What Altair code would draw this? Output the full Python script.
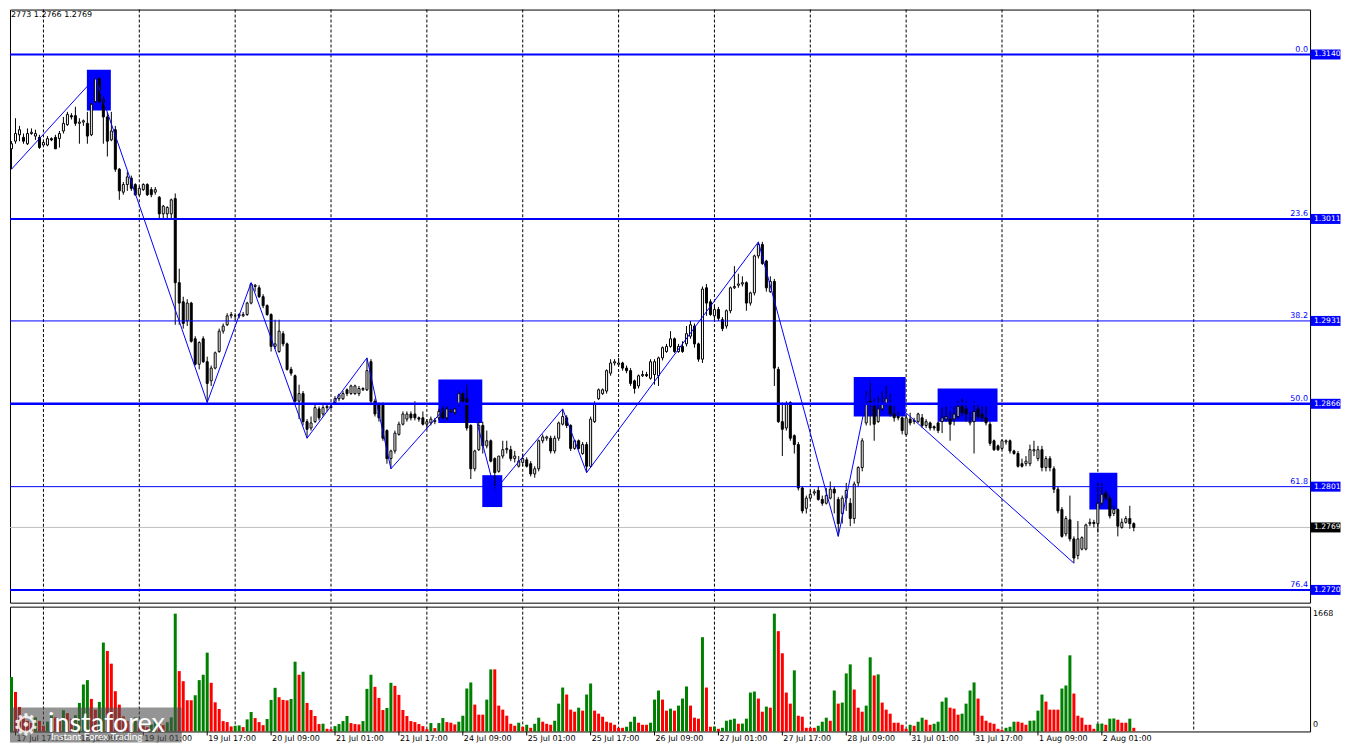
import altair as alt
import pandas as pd

# ---------------- data (prices in units of 0.0001) ----------------
OPEN_PIPS = [
13074,13082,13066,13072,13077,13075,13070,13078,13076,13075,
13069,13069,13074,13075,13074,13080,13085,13092,13092,13086,
13087,13086,13077,13103,13121,13105,13091,13073,13081,13050,
13032,13038,13043,13038,13030,13034,13038,13034,13032,13028,
13015,13015,13015,13027,12961,12946,12931,12945,12917,12897,
12917,12899,12884,12894,12907,12923,12928,12935,12935,12935,
12935,12936,12945,12958,12957,12950,12943,12936,12911,12907,
12921,12913,12893,12888,12868,12874,12852,12847,12852,12862,
12858,12863,12863,12867,12870,12870,12877,12874,12874,12874,
12877,12877,12899,12868,12866,12866,12845,12823,12829,12842,
12850,12854,12858,12858,12855,12855,12850,12851,12852,12855,
12862,12855,12860,12859,12866,12874,12870,12849,12815,12830,
12849,12833,12837,12823,12813,12825,12830,12830,12823,12817,
12820,12822,12819,12811,12815,12837,12839,12839,12829,12839,
12850,12855,12849,12831,12837,12827,12834,12817,12852,12870,
12874,12876,12890,12898,12897,12898,12894,12892,12884,12880,
12888,12889,12886,12889,12888,12902,12907,12911,12917,12907,
12911,12913,12919,12927,12913,12901,12957,12946,12935,12940,
12932,12927,12939,12957,12959,12960,12961,12945,12953,12982,
12991,12978,12954,12962,12893,12852,12847,12867,12841,12834,
12800,12784,12792,12796,12798,12791,12788,12792,12799,12791,
12780,12792,12788,12776,12804,12816,12851,12868,12864,12852,
12862,12866,12864,12858,12856,12855,12842,12854,12852,12852,
12855,12849,12851,12848,12851,12852,12854,12854,12854,12856,
12864,12862,12851,12852,12862,12858,12855,12850,12837,12833,
12831,12836,12837,12829,12827,12819,12819,12819,12829,12823,
12830,12816,12823,12815,12799,12783,12764,12775,12760,12747,
12752,12752,12772,12773,12772,12788,12796,12792,12780,12783,
12769,12773,12776,12772]

HIGH_PIPS = [
13087,13084,13072,13090,13084,13078,13082,13082,13081,13077,
13072,13076,13075,13077,13080,13091,13095,13094,13099,13090,
13089,13095,13102,13122,13122,13107,13095,13095,13084,13051,
13040,13048,13045,13039,13037,13039,13039,13036,13036,13029,
13022,13021,13027,13031,12972,12950,12948,12946,12919,12915,
12919,12903,12896,12907,12925,12929,12937,12938,12937,12937,
12938,12946,12961,12960,12959,12952,12944,12937,12932,12932,
12923,12914,12895,12889,12881,12876,12854,12856,12866,12864,
12865,12865,12866,12872,12874,12876,12878,12881,12881,12880,
12879,12902,12901,12870,12867,12867,12846,12830,12845,12852,
12860,12860,12860,12868,12856,12860,12854,12856,12855,12862,
12864,12864,12862,12863,12876,12875,12882,12850,12830,12852,
12852,12845,12838,12824,12820,12837,12837,12833,12829,12825,
12827,12824,12821,12817,12838,12842,12841,12841,12841,12852,
12862,12857,12850,12838,12838,12836,12836,12856,12868,12878,
12878,12893,12901,12901,12902,12899,12896,12894,12885,12889,
12892,12891,12901,12901,12903,12911,12913,12923,12918,12913,
12915,12927,12931,12929,12914,12958,12960,12948,12943,12942,
12934,12940,12958,12974,12968,12966,12962,12954,12983,12993,
12993,12979,12966,12964,12895,12867,12868,12868,12842,12836,
12801,12794,12798,12799,12801,12794,12800,12805,12801,12793,
12794,12804,12792,12805,12817,12839,12876,12884,12870,12872,
12876,12880,12874,12864,12860,12856,12857,12859,12855,12859,
12858,12854,12852,12849,12852,12863,12864,12860,12864,12868,
12870,12868,12860,12868,12866,12864,12864,12852,12838,12834,
12838,12838,12838,12830,12829,12823,12825,12834,12837,12833,
12833,12825,12825,12817,12801,12785,12778,12794,12762,12774,
12762,12772,12776,12775,12804,12804,12798,12794,12786,12784,
12776,12778,12786,12773]

LOW_PIPS = [
13064,13062,13050,13070,13072,13070,13069,13077,13073,13066,
13069,13068,13072,13066,13067,13078,13084,13089,13084,13070,
13084,13070,13076,13102,13102,13070,13060,13072,13048,13026,
13030,13033,13033,13029,13029,13033,13029,13028,13030,13011,
13011,13011,13011,12928,12928,12925,12927,12914,12896,12893,
12898,12867,12880,12893,12906,12921,12927,12933,12932,12933,
12934,12935,12944,12954,12949,12941,12935,12907,12909,12906,
12911,12892,12888,12867,12854,12849,12839,12845,12851,12853,
12856,12860,12862,12865,12868,12869,12872,12873,12873,12872,
12876,12876,12865,12856,12852,12837,12819,12815,12827,12841,
12849,12852,12853,12853,12852,12849,12846,12849,12850,12853,
12854,12853,12859,12857,12864,12867,12845,12807,12813,12829,
12827,12831,12820,12798,12812,12823,12827,12821,12820,12816,
12817,12816,12809,12808,12813,12835,12837,12827,12827,12837,
12849,12847,12829,12830,12830,12826,12812,12816,12851,12869,
12873,12874,12888,12896,12895,12892,12890,12880,12874,12878,
12887,12887,12885,12881,12880,12900,12906,12910,12906,12906,
12906,12911,12917,12910,12899,12898,12935,12935,12932,12931,
12923,12925,12937,12956,12957,12958,12939,12943,12951,12980,
12975,12954,12953,12880,12851,12825,12845,12837,12827,12798,
12780,12780,12791,12794,12790,12786,12787,12791,12780,12762,
12772,12782,12770,12772,12801,12813,12849,12849,12837,12851,
12860,12864,12856,12852,12853,12842,12841,12849,12850,12851,
12847,12847,12845,12845,12843,12843,12852,12837,12849,12854,
12856,12852,12849,12827,12854,12852,12849,12833,12829,12829,
12830,12834,12827,12826,12816,12816,12817,12817,12825,12821,
12813,12813,12813,12796,12780,12761,12762,12758,12741,12744,
12751,12751,12770,12769,12765,12786,12790,12776,12778,12762,
12768,12772,12768,12766]

CLOSE_PIPS = [
13082,13066,13070,13078,13081,13072,13078,13079,13078,13067,
13071,13074,13073,13066,13078,13086,13093,13091,13086,13087,
13088,13076,13101,13121,13103,13091,13072,13080,13050,13033,
13038,13044,13035,13030,13035,13038,13030,13030,13034,13015,
13021,13020,13026,12961,12945,12929,12945,12915,12897,12914,
12899,12882,12894,12906,12923,12927,12935,12936,12935,12936,
12936,12945,12960,12959,12950,12943,12936,12911,12913,12923,
12913,12893,12890,12868,12874,12852,12846,12851,12863,12855,
12863,12864,12864,12870,12873,12874,12874,12880,12880,12878,
12878,12892,12868,12858,12855,12839,12823,12829,12843,12850,
12858,12858,12855,12855,12854,12850,12852,12854,12853,12860,
12855,12862,12861,12862,12874,12868,12847,12815,12829,12849,
12833,12837,12821,12812,12825,12830,12831,12823,12825,12821,
12823,12817,12811,12815,12837,12840,12840,12829,12839,12851,
12856,12849,12831,12837,12831,12834,12817,12854,12866,12877,
12877,12892,12898,12899,12898,12894,12892,12882,12878,12888,
12889,12888,12899,12899,12902,12910,12911,12917,12907,12911,
12907,12921,12928,12913,12901,12956,12945,12936,12940,12933,
12925,12939,12957,12958,12960,12961,12945,12953,12982,12991,
12976,12957,12962,12894,12852,12846,12866,12839,12834,12800,
12782,12792,12795,12797,12791,12788,12794,12799,12796,12772,
12792,12798,12776,12803,12816,12837,12867,12867,12850,12862,
12866,12870,12858,12855,12855,12845,12855,12851,12853,12858,
12849,12852,12847,12847,12845,12855,12856,12850,12858,12864,
12859,12858,12852,12860,12856,12855,12851,12835,12830,12830,
12837,12837,12829,12827,12817,12817,12821,12830,12830,12830,
12816,12823,12816,12799,12782,12762,12776,12760,12745,12760,
12761,12771,12773,12772,12788,12795,12792,12778,12783,12770,
12773,12776,12772,12769]

VOLUMES = [
394,760,770,560,347,214,150,120,200,150,
80,140,250,200,150,300,260,180,230,404,
665,727,461,309,418,1259,1140,960,570,380,
214,150,100,200,130,80,60,100,150,120,
90,130,200,1668,855,712,442,442,513,727,
803,1116,689,413,318,147,133,71,81,86,
62,171,276,190,133,90,176,447,618,485,
447,440,460,988,803,846,404,304,219,105,
110,38,33,76,105,147,219,119,105,100,
147,603,803,632,475,304,333,689,646,518,
304,219,147,133,105,76,33,119,48,119,
190,133,124,100,138,223,608,694,380,238,
238,451,879,879,366,309,223,109,81,124,
67,95,52,109,195,138,109,95,152,394,
622,523,309,280,337,295,523,679,295,252,
209,138,124,95,52,52,67,138,209,124,
95,95,124,451,580,451,295,323,295,366,
466,637,366,195,181,1335,622,67,70,38,
52,152,166,181,109,112,181,551,565,466,
280,352,337,1668,1420,1107,551,394,865,223,
209,52,52,52,81,138,195,152,580,394,
409,822,950,594,337,280,366,1050,793,808,
409,309,252,124,124,95,38,95,81,138,
195,166,95,109,138,423,480,337,323,238,
252,394,580,694,466,223,152,124,109,38,
24,52,67,138,138,124,95,152,155,295,
523,423,309,309,309,608,651,1078,537,223,
195,95,95,38,109,112,95,181,184,166,
124,124,181,52]

# bar index of each midnight (vertical dotted separators)
DAY_START_BARS = [10, 34, 58, 82, 106, 130, 154, 178, 202, 226, 250, 274, 298]
# time-axis labels
TIME_TICK_BARS = [3, 19, 35, 51, 67, 83, 99, 115, 131, 147, 163, 179, 195, 211, 227, 243, 259, 275]
TIME_TICK_LABELS = ["17 Jul 17:00", "18 Jul 09:00", "19 Jul 01:00", "19 Jul 17:00", "20 Jul 09:00",
                    "21 Jul 01:00", "21 Jul 17:00", "24 Jul 09:00", "25 Jul 01:00", "25 Jul 17:00",
                    "26 Jul 09:00", "27 Jul 01:00", "27 Jul 17:00", "28 Jul 09:00", "31 Jul 01:00",
                    "31 Jul 17:00", "1 Aug 09:00", "2 Aug 01:00"]
PRICE_TICKS = [1.3165, 1.3135, 1.3105, 1.3075, 1.3045, 1.3015, 1.2985, 1.2955, 1.2925,
               1.2895, 1.2865, 1.2835, 1.2805, 1.2775, 1.2745, 1.2715]
FIB_LABELS = ["0.0", "23.6", "38.2", "50.0", "61.8", "76.4"]
FIB_PRICES = [1.3140, 1.3011, 1.2931, 1.2866, 1.2801, 1.2720]
FIB_WIDTHS = [2, 2, 1, 2.5, 1, 2]
ZIGZAG_BARS = [2, 23, 51, 62, 76, 91, 97, 116, 123, 140, 146, 189, 209, 217, 268]
ZIGZAG_PRICES = [1.3050, 1.3122, 1.2867, 1.2961, 1.2839, 1.2902, 1.2815, 1.2882, 1.2798,
                 1.2862, 1.2812, 1.2993, 1.2762, 1.2884, 1.2741]
BOX_START_BARS = [20.875, 108.875, 119.875, 212.875, 233.875, 271.875]
BOX_END_BARS = [26.875, 119.875, 124.875, 225.875, 248.875, 278.875]
BOX_TOP_PRICES = [1.3128, 1.2885, 1.2810, 1.2887, 1.2878, 1.2812]
BOX_BOTTOM_PRICES = [1.3096, 1.2851, 1.2785, 1.2856, 1.2852, 1.2783]
CURRENT_PRICE = 1.2769
VOLUME_MAX = 1668
HEADER_TEXT = "2773 1.2766 1.2769"
FIRST_VISIBLE_BAR = 2  # earlier bars fall under the page margin

# ---------------- build ----------------
PIP = 10000.0
n = len(OPEN_PIPS)
assert n == len(HIGH_PIPS) == len(LOW_PIPS) == len(CLOSE_PIPS) == len(VOLUMES) == 284
bars = list(range(n))
candles = pd.DataFrame({
    "bar": bars,
    "o": [v / PIP for v in OPEN_PIPS],
    "h": [v / PIP for v in HIGH_PIPS],
    "l": [v / PIP for v in LOW_PIPS],
    "c": [v / PIP for v in CLOSE_PIPS],
})
candles["fill"] = ["white" if c >= o else "black" for o, c in zip(OPEN_PIPS, CLOSE_PIPS)]
vol_colors = ["#008000" if (i == 0 or VOLUMES[i] > VOLUMES[i - 1]) else "#FF0000" for i in range(n)]
vol_df = pd.DataFrame({"bar": bars, "vol": VOLUMES, "col": vol_colors})
candles = candles[candles["bar"] >= FIRST_VISIBLE_BAR]
vol_df = vol_df[vol_df["bar"] >= FIRST_VISIBLE_BAR]

# layout (plot area starts at page x=8, y=8 because of the page margin)
W = 1302
H_MAIN = 594
H_VOL = 125
FONT = "DejaVu Sans"
BLUE = "#0000FF"
RX = W + 4  # just right of the price scale ticks

xs = alt.Scale(domain=[1.625, 327.125], nice=False, zero=False, padding=0)
ys = alt.Scale(domain=[1.271, 1.317526], nice=False, zero=False, padding=0)
vs = alt.Scale(domain=[0, 1767], nice=False, zero=True, padding=0)


def xq(f):
    return alt.X(f"{f}:Q", scale=xs, axis=None, title=None)


def yq(f, axis=None):
    return alt.Y(f"{f}:Q", scale=ys, axis=axis, title=None)


days_df = pd.DataFrame({"bar": DAY_START_BARS})
grid_main = alt.Chart(days_df).mark_rule(color="black", strokeWidth=1, strokeDash=[3, 2]).encode(x=xq("bar"))

boxes_df = pd.DataFrame({"b0": BOX_START_BARS, "b1": BOX_END_BARS,
                         "top": BOX_TOP_PRICES, "bottom": BOX_BOTTOM_PRICES})
boxes = alt.Chart(boxes_df).mark_rect(color=BLUE).encode(
    x=xq("b0"), x2=alt.X2("b1"), y=yq("top"), y2=alt.Y2("bottom"))

cur_df = pd.DataFrame({"price": [CURRENT_PRICE]})
cur_line = alt.Chart(cur_df).mark_rule(color="#C0C0C0", strokeWidth=1).encode(y=yq("price"))

price_axis = alt.Axis(orient="right", values=PRICE_TICKS, format=".4f", labelFont=FONT,
                      labelFontSize=7.6, labelColor="black", tickColor="black", tickSize=4,
                      tickWidth=1, domain=False, grid=False, labelPadding=0.5, labelOverlap=False)
wicks = alt.Chart(candles).mark_rule(color="black", strokeWidth=1).encode(
    x=xq("bar"), y=yq("l", price_axis), y2=alt.Y2("h"))
bodies = alt.Chart(candles).mark_bar(size=2, stroke="black", strokeWidth=1).encode(
    x=xq("bar"), y=yq("o"), y2=alt.Y2("c"), fill=alt.Fill("fill:N", scale=None, legend=None))

fib_df = pd.DataFrame({"price": FIB_PRICES, "label": FIB_LABELS, "w": FIB_WIDTHS})
fib_lines = alt.Chart(fib_df).mark_rule(color=BLUE).encode(
    y=yq("price"), strokeWidth=alt.StrokeWidth("w:Q", scale=None, legend=None))
fib_text = alt.Chart(fib_df).mark_text(color=BLUE, align="right", baseline="alphabetic", dy=-3,
                                       font=FONT, fontSize=8).encode(
    x=alt.value(W - 2), y=yq("price"), text="label:N")

zz_df = pd.DataFrame({"bar": ZIGZAG_BARS, "price": ZIGZAG_PRICES, "k": list(range(len(ZIGZAG_BARS)))})
zigzag = alt.Chart(zz_df).mark_line(color=BLUE, strokeWidth=1).encode(
    x=xq("bar"), y=yq("price"), order="k:Q")

tag_prices = FIB_PRICES + [CURRENT_PRICE]
tag_df = pd.DataFrame({"price": tag_prices, "label": [f"{p:.4f}" for p in tag_prices],
                       "col": [BLUE] * len(FIB_PRICES) + ["black"]})
tags = alt.Chart(tag_df).mark_point(shape="M-1,-0.333L1,-0.333L1,0.333L-1,0.333Z", size=900,
                                    filled=True, opacity=1, strokeWidth=0).encode(
    x=alt.value(W + 15.5), y=yq("price"), color=alt.Color("col:N", scale=None, legend=None))
tag_text = alt.Chart(tag_df).mark_text(color="white", align="left", baseline="middle",
                                       font=FONT, fontSize=7.6).encode(
    x=alt.value(RX), y=yq("price"), text="label:N")

hdr = alt.Chart(pd.DataFrame({"t": [HEADER_TEXT]})).mark_text(
    align="left", baseline="alphabetic", font=FONT, fontSize=8, color="black").encode(
    x=alt.value(1), y=alt.value(7), text="t:N")

main = alt.layer(grid_main, boxes, cur_line, wicks, bodies, fib_lines, fib_text, zigzag,
                 tags, tag_text, hdr).properties(width=W, height=H_MAIN)

# ---------------- volume panel ----------------
grid_vol = alt.Chart(days_df).mark_rule(color="black", strokeWidth=1, strokeDash=[3, 2]).encode(x=xq("bar"))
vbars = alt.Chart(vol_df).mark_bar(size=3).encode(
    x=xq("bar"), y=alt.Y("vol:Q", scale=vs, axis=None, title=None),
    color=alt.Color("col:N", scale=None, legend=None))
vmax_lab = alt.Chart(pd.DataFrame({"v": [VOLUME_MAX], "t": [str(VOLUME_MAX)]})).mark_text(
    align="left", baseline="middle", font=FONT, fontSize=8, color="black").encode(
    x=alt.value(W + 3), y=alt.Y("v:Q", scale=vs, axis=None), text="t:N")
vzero_lab = alt.Chart(pd.DataFrame({"v": [0], "t": ["0"]})).mark_text(
    align="left", baseline="middle", font=FONT, fontSize=8, color="black", dy=-6).encode(
    x=alt.value(W + 3), y=alt.Y("v:Q", scale=vs, axis=None), text="t:N")

tdf = pd.DataFrame({"bar": TIME_TICK_BARS, "label": TIME_TICK_LABELS})
tticks = alt.Chart(tdf).mark_rule(color="black", strokeWidth=1).encode(
    x=xq("bar"), y=alt.value(H_VOL), y2=alt.value(H_VOL + 4))
tlabels = alt.Chart(tdf).mark_text(align="left", baseline="middle", dx=1, font=FONT,
                                   fontSize=8, color="black").encode(
    x=xq("bar"), y=alt.value(H_VOL + 8), text="label:N")

wm = pd.DataFrame({"a": [0]})
wm_rect = alt.Chart(wm).mark_rect(color="#4d4d4d", opacity=0.6).encode(
    x=alt.value(0), x2=alt.value(172), y=alt.value(101), y2=alt.value(136))
wm_gear = alt.Chart(wm).mark_text(text="\u2699", font=FONT, fontSize=30, color="white",
                                  opacity=0.85, align="center", baseline="middle").encode(
    x=alt.value(16), y=alt.value(120))
wm_name = alt.Chart(wm).mark_text(text="instaforex", font="Lato", fontSize=27, color="white",
                                  align="left", baseline="alphabetic").encode(
    x=alt.value(38), y=alt.value(126))
wm_tag = alt.Chart(wm).mark_text(text="Instant Forex Trading", font="Lato", fontSize=10,
                                 color="white", align="left", baseline="alphabetic").encode(
    x=alt.value(41), y=alt.value(134))

vol = alt.layer(grid_vol, vbars, vmax_lab, vzero_lab, tticks, tlabels,
                wm_rect, wm_gear, wm_name, wm_tag).properties(width=W, height=H_VOL)

chart = alt.vconcat(main, vol, spacing=2).properties(
    padding=0,
    background="white",
).configure_view(stroke="black", strokeWidth=1)

chart.save("out.html", embed_options={"renderer": "svg", "actions": False})
